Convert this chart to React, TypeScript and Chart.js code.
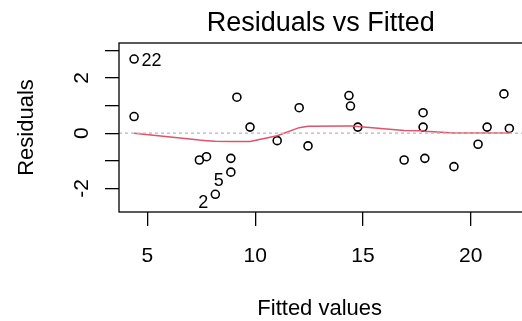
import React, { useEffect, useRef } from "react";
import { Chart, registerables } from "chart.js";

Chart.register(...registerables);

// Residuals vs fitted (one point per observation)
const fittedValues = [4.38, 4.38, 7.41, 7.74, 8.15, 8.87, 8.87, 9.15, 9.76, 11.02, 12.04, 12.45, 14.35, 14.42, 14.76, 16.91, 17.79, 17.79, 17.87, 19.22, 20.34, 20.76, 21.54, 21.79];
const residualValues = [2.68, 0.6, -0.97, -0.85, -2.21, -0.91, -1.41, 1.3, 0.22, -0.27, 0.92, -0.46, 1.36, 0.98, 0.22, -0.97, 0.74, 0.22, -0.91, -1.21, -0.4, 0.22, 1.42, 0.17];

// Smoother (loess) evaluated at the sorted fitted values
const smoothX = [4.38, 7.41, 7.74, 8.15, 8.87, 9.15, 9.76, 11.02, 12.04, 12.45, 14.35, 14.42, 14.76, 16.91, 17.79, 17.87, 19.22, 20.34, 20.76, 21.54, 21.79];
const smoothY = [0.0, -0.25, -0.27, -0.29, -0.3, -0.3, -0.3, -0.09, 0.2, 0.25, 0.26, 0.26, 0.24, 0.1, 0.09, 0.07, 0.01, 0.01, 0.01, 0.01, 0.01];

// Axis ticks
const xTickValues = [5, 10, 15, 20];
const xTickLabels = ["5", "10", "15", "20"];
const yTickValues = [-2, -1, 0, 1, 2, 3];
const yTickLabels = ["-2", "", "0", "", "2", ""];

// Identified points
const idIndex = [0, 4, 6];
const idText = ["22", "2", "5"];
const idSide = ["right", "left", "left"];

const titleText = "Residuals vs Fitted";
const xTitle = "Fitted values";
const yTitle = "Residuals";

const FONT = "'Liberation Sans', Arial, sans-serif";

export default function App() {
  const ref = useRef<HTMLCanvasElement | null>(null);

  useEffect(() => {
    const canvas = ref.current;
    if (!canvas) return;

    const decor = {
      id: "rdecor",
      afterDatasetsDraw(chart: any) {
        const ctx = chart.ctx;
        const { left, right } = chart.chartArea;
        const y0 = chart.scales.y.getPixelForValue(0);
        ctx.save();
        ctx.strokeStyle = "#BEBEBE";
        ctx.lineWidth = 1.4;
        ctx.setLineDash([3, 3]);
        ctx.beginPath();
        ctx.moveTo(left, y0);
        ctx.lineTo(right, y0);
        ctx.stroke();
        ctx.restore();
      },
      afterDraw(chart: any) {
        const ctx = chart.ctx;
        const { left, right, top, bottom } = chart.chartArea;
        const xs = chart.scales.x;
        const ys = chart.scales.y;
        ctx.save();
        // box
        ctx.strokeStyle = "#000";
        ctx.lineWidth = 1.3;
        ctx.strokeRect(left, top, right - left, bottom - top);

        ctx.fillStyle = "#000";
        // title
        ctx.font = `27px ${FONT}`;
        ctx.textAlign = "center";
        ctx.textBaseline = "alphabetic";
        ctx.fillText(titleText, (left + right) / 2 - 1, 31);

        // x tick labels
        ctx.font = `21px ${FONT}`;
        xTickValues.forEach((v, i) => {
          ctx.fillText(xTickLabels[i], xs.getPixelForValue(v), 262);
        });
        // x title
        ctx.font = `22px ${FONT}`;
        ctx.fillText(xTitle, (left + right) / 2 - 2, 315);

        // y tick labels (rotated)
        ctx.font = `21px ${FONT}`;
        yTickValues.forEach((v, i) => {
          if (!yTickLabels[i]) return;
          ctx.save();
          ctx.translate(88, ys.getPixelForValue(v));
          ctx.rotate(-Math.PI / 2);
          ctx.fillText(yTickLabels[i], 0, 0);
          ctx.restore();
        });
        // y title
        ctx.font = `22px ${FONT}`;
        ctx.save();
        ctx.translate(33, (top + bottom) / 2);
        ctx.rotate(-Math.PI / 2);
        ctx.fillText(yTitle, 0, 0);
        ctx.restore();

        // identified point labels
        ctx.font = `18px ${FONT}`;
        idIndex.forEach((idx, i) => {
          const px = xs.getPixelForValue(fittedValues[idx]);
          const py = ys.getPixelForValue(residualValues[idx]);
          if (idSide[i] === "right") {
            ctx.textAlign = "left";
            ctx.fillText(idText[i], px + 7.5, py + 7);
          } else {
            ctx.textAlign = "right";
            ctx.fillText(idText[i], px - 7, py + 14);
          }
        });
        ctx.restore();
      },
    };

    const chart = new Chart(canvas, {
      type: "scatter",
      data: {
        datasets: [
          {
            type: "line",
            data: smoothX.map((x, i) => ({ x, y: smoothY[i] })),
            borderColor: "#DF536B",
            borderWidth: 1.5,
            pointRadius: 0,
            tension: 0,
            fill: false,
            order: 1,
          } as any,
          {
            type: "scatter",
            data: fittedValues.map((x, i) => ({ x, y: residualValues[i] })),
            pointStyle: "circle",
            pointRadius: 4,
            borderColor: "#000",
            borderWidth: 1.6,
            backgroundColor: "rgba(0,0,0,0)",
            order: 2,
          },
        ],
      },
      options: {
        animation: false,
        responsive: false,
        devicePixelRatio: 1,
        events: [],
        layout: { padding: { top: 43, right: 4, left: 0, bottom: 0 } },
        plugins: {
          legend: { display: false },
          tooltip: { enabled: false },
          title: { display: false },
        },
        scales: {
          x: {
            type: "linear",
            min: 3.68,
            max: 22.49,
            grid: { drawOnChartArea: false, drawTicks: true, tickLength: 14, color: "#000", lineWidth: 1.3 },
            border: { display: false },
            ticks: { display: false },
            afterBuildTicks: (scale: any) => {
              scale.ticks = xTickValues.map((v) => ({ value: v }));
            },
            afterFit: (scale: any) => {
              scale.height = 321 - 212;
            },
          },
          y: {
            type: "linear",
            min: -2.85,
            max: 3.26,
            grid: { drawOnChartArea: false, drawTicks: true, tickLength: 14, color: "#000", lineWidth: 1.3 },
            border: { display: false },
            ticks: { display: false },
            afterBuildTicks: (scale: any) => {
              scale.ticks = yTickValues.map((v) => ({ value: v }));
            },
            afterFit: (scale: any) => {
              scale.width = 119;
            },
          },
        },
      },
      plugins: [decor],
    });

    return () => chart.destroy();
  }, []);

  return (
    <div
      style={{
        position: "fixed",
        left: 0,
        top: 0,
        width: 522,
        height: 321,
        overflow: "hidden",
        background: "#fff",
      }}
    >
      <canvas ref={ref} width={530} height={321} style={{ display: "block", width: 530, height: 321 }} />
    </div>
  );
}
